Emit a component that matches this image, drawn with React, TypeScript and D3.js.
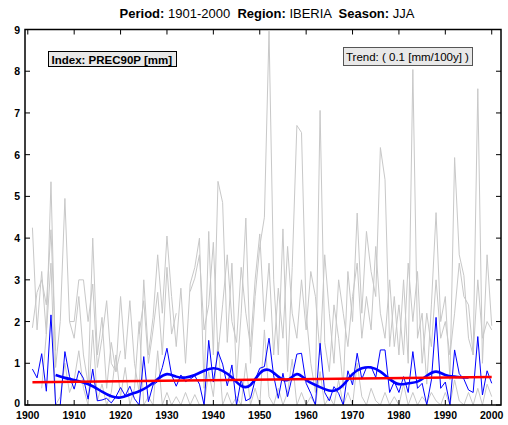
import * as d3 from 'd3';

const WIDTH = 508;
const HEIGHT = 425;
const MARGIN = { top: 29.5, right: 7, bottom: 20, left: 25 };

const years = d3.range(1901, 2001);

// index values (blue)
const prec90p = [
  0.86, 0.65, 1.23, 0.33, 2.16, 0.0, 0.0, 1.28, 0.68, 0.38,
  0.82, 0.64, 0.14, 0.86, 0.1, 0.12, 0.16, 0.05, 0.2, 0.42,
  0.22, 0.45, 0.15, 0.0, 1.16, 0.08, 0.48, 0.56, 0.9, 1.36,
  0.72, 0.45, 0.72, 0.56, 0.62, 0.7, 0.5, 0.0, 1.55, 0.55,
  1.28, 0.98, 0.46, 0.96, 0.0, 0.62, 0.1, 0.16, 0.6, 0.88,
  0.92, 1.6, 0.7, 0.16, 0.76, 0.2, 0.68, 1.22, 1.24, 0.52,
  0.28, 0.0, 1.48, 0.3, 0.1, 0.44, 0.28, 0.0, 0.82, 0.48,
  1.24, 0.62, 0.9, 0.92, 0.66, 1.32, 1.32, 0.3, 0.56, 0.3,
  0.68, 0.3, 1.28, 0.4, 0.52, 0.0, 0.6, 2.1, 0.4, 0.55,
  0.0, 1.32, 0.75, 0.62, 0.36, 0.3, 1.64, 0.24, 0.82, 0.52,
];

// filtered curve (thick blue)
const smoothYears = [1906, 1908, 1910, 1912, 1914, 1916, 1918, 1920, 1922, 1924, 1926, 1928, 1930, 1932, 1934, 1936, 1938, 1940, 1942, 1944, 1946, 1948, 1950, 1952, 1954, 1956, 1958, 1960, 1962, 1964, 1966, 1968, 1970, 1972, 1974, 1976, 1978, 1980, 1982, 1984, 1986, 1988, 1990, 1992, 1994, 1995];
const smoothValues = [0.72, 0.65, 0.6, 0.54, 0.45, 0.32, 0.21, 0.18, 0.25, 0.33, 0.45, 0.62, 0.74, 0.68, 0.66, 0.72, 0.82, 0.88, 0.82, 0.66, 0.46, 0.48, 0.76, 0.84, 0.68, 0.6, 0.74, 0.6, 0.48, 0.38, 0.34, 0.48, 0.74, 0.88, 0.9, 0.8, 0.62, 0.5, 0.52, 0.56, 0.7, 0.8, 0.72, 0.68, 0.66, 0.66];

// linear trend (red)
const trendYears = [1901, 2000];
const trendValues = [0.545, 0.67];

// grid-box series (grey), null = missing
const grey1 = [
  4.25, 1.8, 3.2, 1.7, 5.35, 0.9, 2.0, 4.95, 2.0, 1.6,
  2.6, 1.2, 0.5, 4.0, 1.2, 2.1, 0.4, 1.5, 0.8, 2.6,
  1.1, 2.5, 1.0, 0.3, 3.0, 1.2, 2.1, 3.6, 2.2, 4.05,
  2.6, 1.4, 2.8, 1.0, 2.9, 3.3, 4.0, 0.4, 4.16, 1.2,
  5.36, 4.85, 1.5, 3.4, 0.6, 2.2, 4.48, 1.0, 2.6, 3.8,
  4.5, 8.96, 3.0, 1.2, 4.22, 0.8, 3.3, 6.7, 6.53, 2.2,
  1.0, 0.3, 7.06, 1.5, 0.8, 2.4, 1.6, 0.4, 3.2, 2.0,
  4.6, 2.2, 4.16, 3.2, 2.6, 6.17, 5.4, 1.4, 2.6, 1.2,
  3.0, 1.0, 8.04, 1.6, 2.2, 0.5, 2.4, 4.61, 2.0, 2.6,
  0.6, 5.93, 3.6, 3.1, 1.6, 1.2, 7.58, 1.0, 3.6, 1.9,
];
const grey2 = [
  1.85, 2.7, 3.0, 2.4, 4.2, 1.3, null, null, 2.0, 2.0,
  3.0, 3.0, 2.0, 2.9, 0.9, 1.6, 2.5, 1.0, 0.8, 1.3,
  null, null, null, 1.7, 2.5, 1.0, 1.8, 2.7, 1.2, 3.3,
  1.7, 2.2, null, null, 2.72, 3.04, 3.6, 1.8, 2.4, 3.9,
  1.2, 2.4, 3.6, 2.0, 1.5, 3.3, 2.2, 1.4, 3.0, 4.1,
  2.0, 3.4, 1.2, 2.8, 1.6, 3.8, 2.2, 1.6, 3.0, 1.8,
  3.2, 2.6, 1.2, 3.6, 2.2, 1.0, 3.0, 2.2, 1.4, 2.6,
  3.4, 1.6, 2.6, 1.8, 3.8, 2.2, 1.6, 3.0, 1.4, 2.4,
  1.2, 3.4, 2.0, 3.2, 1.0, 2.2, 1.4, 3.0, 1.6, 2.0,
  1.2, 2.2, 3.4, 2.6, 2.4, 1.2, 3.0, 1.6, 2.0, 1.8,
];
const grey3 = [
  null, null, 0.4, 1.7, 3.4, 0.0, 0.2, 1.0, 0.3, 0.6,
  1.3, 0.4, 0.0, 1.8, 0.1, 0.5, 0.0, 0.3, 1.2, 0.2,
  0.9, 0.0, 0.4, 2.0, 0.0, 0.2, 0.0, 1.3, 0.0, 0.3,
  0.0, 0.2, 0.0, 0.3, 0.0, 0.25, 0.0, 0.0, 0.8, 0.2,
  1.5, 0.0, 0.3, 0.0, 0.2, 0.0, 1.0, 0.0, 0.4, 0.0,
  1.8, 0.2, 0.0, 0.4, 0.0, 0.3, 1.1, 0.0, 0.3, 0.0,
  0.2, 0.0, 0.8, 0.0, 0.2, 0.0, 0.6, 0.0, 0.3, 0.0,
  1.0, 0.2, 0.0, 0.4, 0.1, 0.0, 0.3, 0.0, 0.2, 0.0,
  0.5, 0.0, 0.3, 0.0, 0.2, 0.05, 0.3, 0.1, 0.0, 0.3,
  0.0, 0.6, 0.1, 0.0, 0.3, 0.0, 0.4, 0.0, 0.5, 0.2,
];

const xTicks = d3.range(1900, 2001, 10);
const yTicks = d3.range(0, 10, 1);

const FONT = '"Liberation Sans", Arial, Helvetica, sans-serif';

export default function App() {
  const x0 = MARGIN.left;
  const x1 = WIDTH - MARGIN.right;
  const y0 = HEIGHT - MARGIN.bottom;
  const y1 = MARGIN.top;

  const x = d3.scaleLinear().domain([1899.4, 2002]).range([x0, x1]);
  const y = d3.scaleLinear().domain([0, 9]).range([y0, y1]);

  const line = d3.line<[number, number | null]>()
    .defined((d) => d[1] !== null)
    .x((d) => x(d[0]))
    .y((d) => y(d[1] as number));

  const smoothLine = d3.line<[number, number]>()
    .x((d) => x(d[0]))
    .y((d) => y(d[1]))
    .curve(d3.curveNatural);

  const pairs = (vals: (number | null)[], yrs = years) => yrs.map((yr, i) => [yr, vals[i]] as [number, number | null]);

  const tickLen = 5;

  return (
    <svg width={WIDTH} height={HEIGHT} style={{ position: 'absolute', left: 0, top: 0, background: '#fff' }} fontFamily={FONT}>
      {/* title */}
      <text x={267} y={18} textAnchor="middle" fontSize={13} style={{ whiteSpace: 'pre' }}>
        <tspan fontWeight="bold">Period:</tspan>
        <tspan>{' 1901-2000  '}</tspan>
        <tspan fontWeight="bold">Region:</tspan>
        <tspan>{' IBERIA  '}</tspan>
        <tspan fontWeight="bold">Season:</tspan>
        <tspan>{' JJA'}</tspan>
      </text>

      <clipPath id="plot-clip">
        <rect x={x0} y={y1} width={x1 - x0} height={y0 - y1} />
      </clipPath>

      <g clipPath="url(#plot-clip)" fill="none">
        {[grey1, grey2, grey3].map((s, i) => (
          <path key={i} d={line(pairs(s)) || ''} stroke="#c8c8c8" strokeWidth={1} />
        ))}
        <path d={line(pairs(prec90p)) || ''} stroke="#0000ff" strokeWidth={1} />
        <path d={smoothLine(smoothYears.map((yr, i) => [yr, smoothValues[i]] as [number, number])) || ''} stroke="#0000ff" strokeWidth={2.6} />
        <path d={line(pairs(trendValues, trendYears)) || ''} stroke="#ff0000" strokeWidth={2.6} />
      </g>

      {/* axes box */}
      <rect x={x0} y={y1} width={x1 - x0} height={y0 - y1} fill="none" stroke="#000" strokeWidth={1.5} />

      {xTicks.map((t) => (
        <g key={t}>
          <line x1={x(t)} x2={x(t)} y1={y0} y2={y0 - tickLen} stroke="#000" />
          <line x1={x(t)} x2={x(t)} y1={y1} y2={y1 + tickLen} stroke="#000" />
          <text x={x(t)} y={y0 + 14} textAnchor="middle" fontSize={10.5} fontWeight="bold">{t}</text>
        </g>
      ))}
      {yTicks.map((t) => (
        <g key={t}>
          <line x1={x0} x2={x0 + tickLen} y1={y(t)} y2={y(t)} stroke="#000" />
          <line x1={x1} x2={x1 - tickLen} y1={y(t)} y2={y(t)} stroke="#000" />
          <text x={x0 - 5} y={y(t) + (t === 0 ? 2 : 4)} textAnchor="end" fontSize={10.5} fontWeight="bold">{t}</text>
        </g>
      ))}

      {/* index label */}
      <rect x={48.5} y={51.5} width={128} height={15} fill="#e8e8e8" stroke="#000" strokeWidth={1} />
      <text x={51.5} y={63.5} fontSize={11.5} fontWeight="bold">Index: PREC90P [mm]</text>

      {/* trend label */}
      <rect x={343.5} y={47.5} width={129} height={18} fill="#e8e8e8" stroke="#555" strokeWidth={1} />
      <text x={346} y={61} fontSize={11.5}>Trend: ( 0.1 [mm/100y] )</text>
    </svg>
  );
}
